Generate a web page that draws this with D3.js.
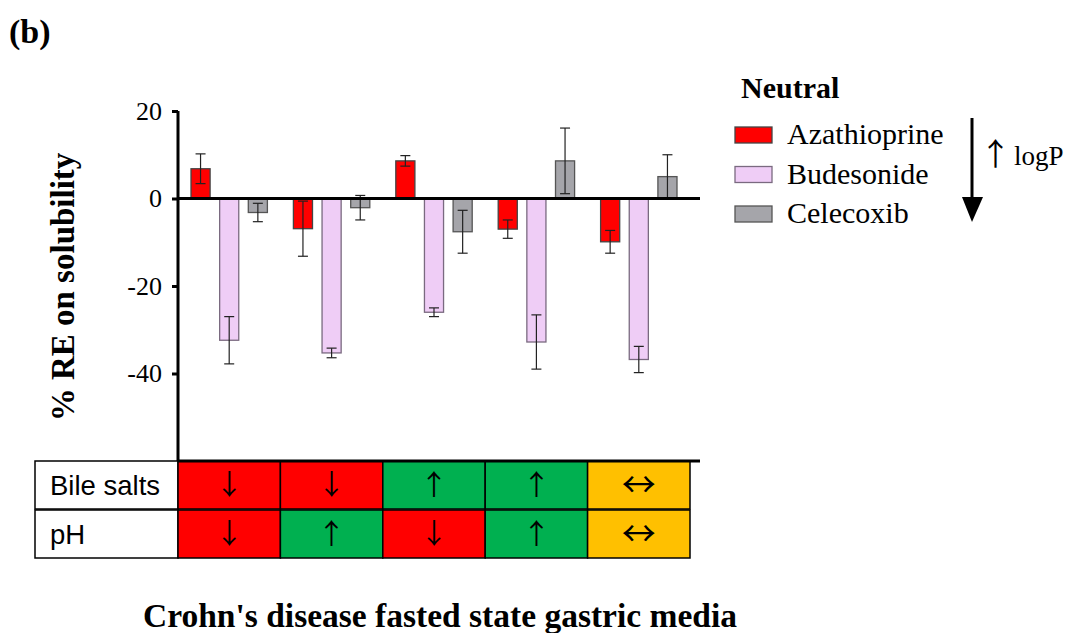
<!DOCTYPE html>
<html>
<head>
<meta charset="UTF-8">
<title>Crohn's disease fasted state gastric media</title>
<script src="https://cdn.jsdelivr.net/npm/d3@7"></script>
<style>
  body { margin: 0; background: #fff; }
  text { font-family: "Liberation Serif", "Times New Roman", serif; fill: #000; }
  .sans { font-family: "Liberation Sans", Arial, sans-serif; }
  .arr { font-family: "Noto Sans CJK JP", "DejaVu Sans", sans-serif; }
</style>
</head>
<body>
<svg width="1065" height="633"></svg>
<script>
// data
var media = ["M1", "M2", "M3", "M4", "M5"];
var seriesNames = ["Azathioprine", "Budesonide", "Celecoxib"];
var azaMean = [6.8, -6.9, 8.6, -7.0, -9.9];
var azaSd   = [3.4, 6.3, 1.2, 2.1, 2.6];
var budMean = [-32.4, -35.3, -26.0, -32.8, -36.8];
var budSd   = [5.4, 1.1, 1.0, 6.2, 3.0];
var celMean = [-3.2, -2.1, -7.6, 8.6, 5.0];
var celSd   = [2.1, 2.8, 4.9, 7.5, 5.0];
var yTicks = [20, 0, -20, -40];
var bileSalts = ["↓", "↓", "↑", "↑", "↔"];
var pH = ["↓", "↑", "↓", "↑", "↔"];

var fills = {"Azathioprine": "#ff0000", "Budesonide": "#efcdf6", "Celecoxib": "#a5a5aa"};
var strokes = {"Azathioprine": "#444", "Budesonide": "#7a6a80", "Celecoxib": "#555"};
var arrowFill = {"↓": "#ff0000", "↑": "#00b050", "↔": "#ffc000"};

var means = [azaMean, budMean, celMean], sds = [azaSd, budSd, celSd];
var rows = [];
media.forEach(function(m, i) {
    seriesNames.forEach(function(s, j) {
        rows.push({media: m, series: s, v: means[j][i], sd: sds[j][i]});
    });
});

var svg = d3.select("svg");
var left = 178, right = 690;

var x0 = d3.scaleBand().domain(media).range([left, right]).padding(0);
var x1 = d3.scaleBand().domain(seriesNames).range([13, x0.bandwidth() - 13]).paddingInner(1/3).paddingOuter(0);
var y = d3.scaleLinear().domain([-60, 20]).range([461, 111]);

// bars
svg.append("g").selectAll("rect")
    .data(rows).enter().append("rect")
    .attr("x", d => x0(d.media) + x1(d.series))
    .attr("width", x1.bandwidth())
    .attr("y", d => y(Math.max(0, d.v)))
    .attr("height", d => Math.abs(y(d.v) - y(0)))
    .style("fill", d => fills[d.series])
    .style("stroke", d => strokes[d.series])
    .style("stroke-width", 1.3);

// error bars
var eb = svg.append("g").selectAll("g").data(rows).enter().append("g")
    .attr("transform", d => "translate(" + (x0(d.media) + x1(d.series) + x1.bandwidth() / 2) + ",0)")
    .style("stroke", "#222").style("stroke-width", 1.2);
eb.append("line").attr("x1", 0).attr("x2", 0)
    .attr("y1", d => y(d.v + d.sd)).attr("y2", d => y(d.v - d.sd));
eb.append("line").attr("x1", -5).attr("x2", 5)
    .attr("y1", d => y(d.v + d.sd)).attr("y2", d => y(d.v + d.sd));
eb.append("line").attr("x1", -5).attr("x2", 5)
    .attr("y1", d => y(d.v - d.sd)).attr("y2", d => y(d.v - d.sd));

// y axis
var yAxis = svg.append("g").attr("transform", "translate(" + left + ",0)")
    .call(d3.axisLeft(y).tickValues(yTicks).tickSize(6).tickPadding(10).tickFormat(d => String(d)));
yAxis.select(".domain").attr("d", "M0," + y(20) + "V" + y(-60)).style("stroke-width", 3);
yAxis.selectAll(".tick line").style("stroke-width", 3);
yAxis.selectAll(".tick text").style("font-family", "Liberation Serif").style("font-size", "26px");

// zero line
svg.append("line").attr("x1", left).attr("x2", 700).attr("y1", y(0)).attr("y2", y(0))
    .style("stroke", "#000").style("stroke-width", 3);

svg.append("text").attr("transform", "translate(74,287) rotate(-90)")
    .attr("text-anchor", "middle").style("font-size", "33px").style("font-weight", "bold")
    .text("% RE on solubility");

// condition table
var rowTop = [461, 510], rowH = 48;
var tableRows = [["Bile salts", bileSalts], ["pH", pH]];
tableRows.forEach(function(r, k) {
    var g = svg.append("g");
    g.append("rect").attr("x", 35).attr("y", rowTop[k]).attr("width", left - 35).attr("height", rowH)
        .style("fill", "#fff").style("stroke", "#000").style("stroke-width", 1.5);
    g.append("text").attr("class", "sans").attr("x", 50).attr("y", rowTop[k] + rowH / 2 + 10)
        .style("font-size", "27.5px").text(r[0]);
    g.selectAll("rect.cell").data(r[1]).enter().append("rect").attr("class", "cell")
        .attr("x", (d, i) => x0(media[i])).attr("y", rowTop[k])
        .attr("width", x0.bandwidth()).attr("height", rowH)
        .style("fill", d => arrowFill[d]).style("stroke", "#000").style("stroke-width", 1.5);
    g.selectAll("text.arr").data(r[1]).enter().append("text").attr("class", "arr")
        .attr("x", (d, i) => x0(media[i]) + x0.bandwidth() / 2)
        .attr("y", d => rowTop[k] + rowH / 2 + (d === "↔" ? 12 : 10))
        .attr("text-anchor", "middle").style("font-size", d => d === "↔" ? "34px" : "28px").text(d => d);
});
svg.append("line").attr("x1", left).attr("x2", 700).attr("y1", 461).attr("y2", 461)
    .style("stroke", "#000").style("stroke-width", 3);

// legend
svg.append("text").attr("x", 741).attr("y", 98).style("font-size", "30px").style("font-weight", "bold").text("Neutral");
var lg = svg.append("g").selectAll("g").data(seriesNames).enter().append("g")
    .attr("transform", (d, i) => "translate(735," + (127 + i * 39.5) + ")");
lg.append("rect").attr("width", 37).attr("height", 16)
    .style("fill", d => fills[d]).style("stroke", d => strokes[d]).style("stroke-width", 1.3);
lg.append("text").attr("x", 52).attr("y", 17).style("font-size", "30px").text(d => d);

// logP arrow
svg.append("line").attr("x1", 972).attr("x2", 972).attr("y1", 118).attr("y2", 200)
    .style("stroke", "#000").style("stroke-width", 3);
svg.append("path").attr("d", "M962,197 L983,197 L972,222 Z").style("fill", "#000");
var lp = svg.append("text").attr("x", 980).attr("y", 165).style("font-size", "27px");
lp.append("tspan").attr("class", "arr").style("font-size", "31px").text("↑");
lp.append("tspan").attr("dx", 3).text("logP");

// titles
svg.append("text").attr("x", 9).attr("y", 43).style("font-size", "34px").style("font-weight", "bold").text("(b)");
svg.append("text").attr("x", 440).attr("y", 627).attr("text-anchor", "middle")
    .style("font-size", "33.5px").style("font-weight", "bold").text("Crohn's disease fasted state gastric media");
</script>
</body>
</html>
